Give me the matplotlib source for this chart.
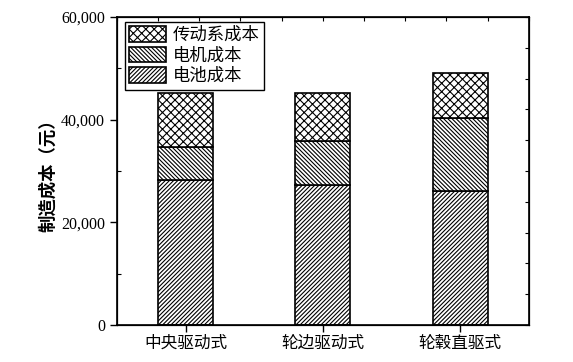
import matplotlib.pyplot as plt
import numpy as np
from matplotlib.ticker import FuncFormatter, MultipleLocator

plt.rcParams['font.family'] = ['Noto Sans CJK SC', 'DejaVu Sans']
plt.rcParams['hatch.linewidth'] = 0.8

categories = ["中央驱动式", "轮边驱动式", "轮毂直驱式"]
battery = [28300, 27300, 26100]
motor = [6300, 8600, 14200]
drivetrain = [10600, 9300, 8800]
series_names = ["传动系成本", "电机成本", "电池成本"]

fig = plt.figure(figsize=(5.73, 3.62), dpi=100)
ax = fig.add_axes([0.204, 0.102, 0.719, 0.851])

x = np.arange(1, len(categories) + 1)
w = 0.4
b1 = ax.bar(x, battery, w, color="white", edgecolor="black", hatch="////////", linewidth=1.2)
bottom2 = np.array(battery)
b2 = ax.bar(x, motor, w, bottom=bottom2, color="white", edgecolor="black", hatch="\\\\\\\\\\\\\\\\", linewidth=1.2)
bottom3 = bottom2 + np.array(motor)
b3 = ax.bar(x, drivetrain, w, bottom=bottom3, color="white", edgecolor="black", hatch="xxxx", linewidth=1.2)

ax.set_xlim(0.5, 3.5)
ax.set_ylim(0, 60000)
ax.set_xticks(x)
ax.set_xticklabels(categories, fontsize=12)
ax.set_yticks([0, 20000, 40000, 60000])
ax.yaxis.set_minor_locator(MultipleLocator(10000))
ax.yaxis.set_major_formatter(FuncFormatter(lambda v, p: f"{int(v):,}"))
for lab in ax.get_yticklabels():
    lab.set_fontfamily("Liberation Serif")
    lab.set_fontsize(11.5)
ax.tick_params(axis="y", which="major", direction="out", length=5, width=1)
ax.tick_params(axis="y", which="minor", direction="in", length=3, width=0.8)
ax.tick_params(axis="x", which="major", direction="out", length=5, width=1, pad=2)
for s in ax.spines.values():
    s.set_linewidth(1.2)

ax.set_ylabel("制造成本（元）", fontsize=12.5, fontweight="bold", labelpad=3)

# top / right axes with their own divisions
top = ax.twiny()
top.set_xlim(0, 10)
top.set_xticks(np.arange(0, 11))
top.set_xticklabels([])
top.tick_params(axis="x", direction="in", length=3, width=0.8)
right = ax.twinx()
right.set_ylim(0, 10)
right.set_yticks(np.arange(0, 11))
right.set_yticklabels([])
right.tick_params(axis="y", direction="in", length=3, width=0.8)

leg = ax.legend([b3, b2, b1], series_names, loc="upper left",
                bbox_to_anchor=(0.02, 0.985), fontsize=12.5, frameon=True,
                fancybox=False, edgecolor="black", framealpha=1,
                handlelength=2.1, handleheight=1.0, labelspacing=0.15,
                borderpad=0.25, handletextpad=0.4, borderaxespad=0)
leg.get_frame().set_linewidth(1.0)
leg.set_zorder(5)

fig.savefig("out.png", dpi=100)
